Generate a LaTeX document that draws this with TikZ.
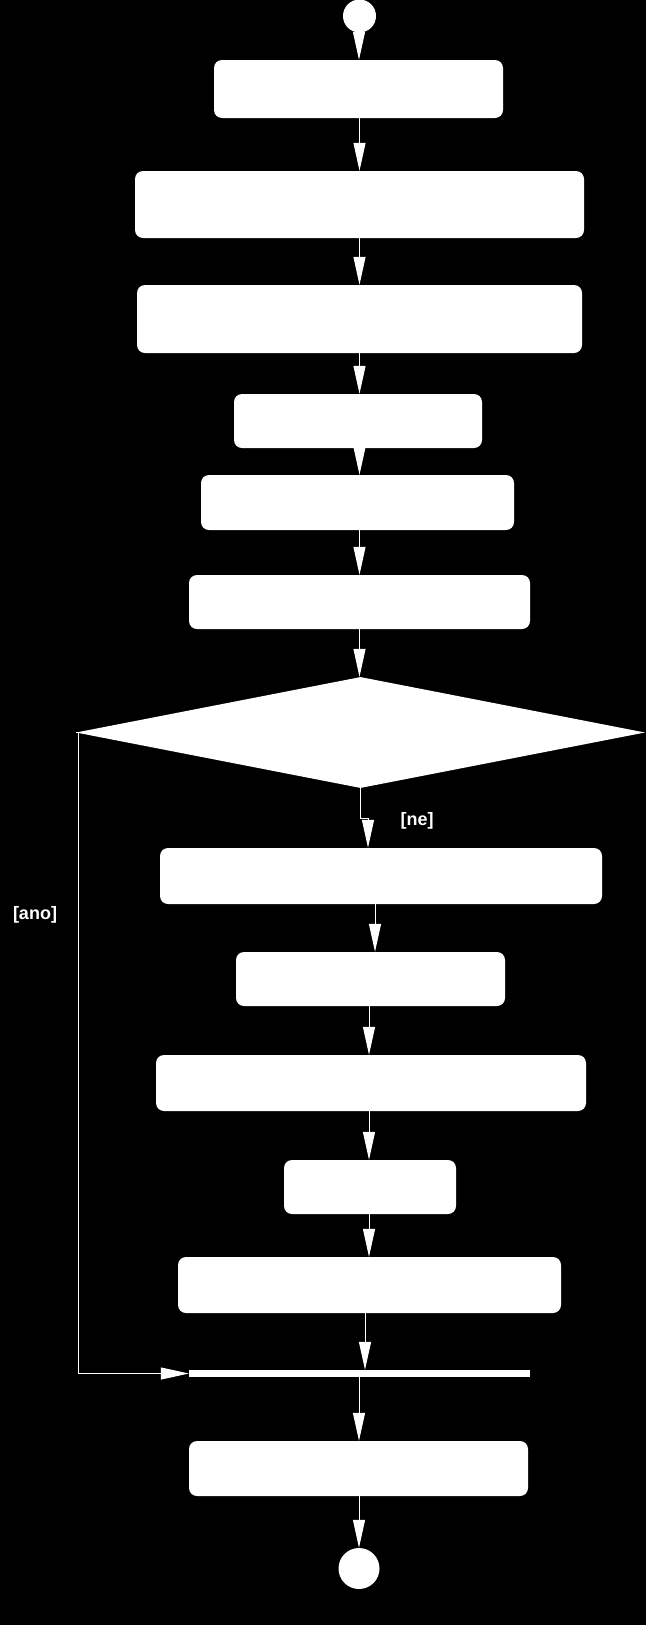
\documentclass[tikz,border=0pt]{standalone}
\usepackage{fontspec}
\setmainfont{Liberation Sans}
\usetikzlibrary{shapes.geometric,arrows.meta}

\begin{document}
\begin{tikzpicture}[
  x=1pt, y=-1pt,
  act/.style={fill=white, draw=none, rounded corners=8pt, inner sep=0pt},
  dec/.style={diamond, fill=white, draw=none, inner sep=0pt},
  ends/.style={circle, fill=white, draw=none, inner sep=0pt},
  flow/.style={white, line width=1pt, -{Triangle[length=28pt, width=12pt]}},
  guard/.style={text=white, font=\fontsize{18}{20}\selectfont\bfseries},
]
  % Background
  \fill[black] (0,0) rectangle (646,1625);
  \useasboundingbox (0,0) rectangle (646,1625);

  % Start
  \node[ends, minimum size=33pt] (start) at (359.5,16) {};

  % Activities before the decision
  \node[act, minimum width=289pt, minimum height=58pt] (a1) at (358.5,89) {};
  \node[act, minimum width=449pt, minimum height=67pt] (a2) at (359.5,204.5) {};
  \node[act, minimum width=445pt, minimum height=68pt] (a3) at (359.5,319) {};
  \node[act, minimum width=248pt, minimum height=54pt] (a4) at (358,421) {};
  \node[act, minimum width=313pt, minimum height=55pt] (a5) at (357.5,502.5) {};
  \node[act, minimum width=341pt, minimum height=54pt] (a6) at (359.5,602) {};

  % Decision
  \node[dec, minimum width=569pt, minimum height=111pt] (choice) at (360.5,732.5) {};

  % Branch [ne]
  \node[act, minimum width=442pt, minimum height=56pt] (a7) at (381,876) {};
  \node[act, minimum width=269pt, minimum height=54pt] (a8) at (370.5,979) {};
  \node[act, minimum width=430pt, minimum height=56pt] (a9) at (371,1083) {};
  \node[act, minimum width=172pt, minimum height=54pt] (a10) at (370,1187) {};
  \node[act, minimum width=383pt, minimum height=56pt] (a11) at (369.5,1285) {};

  % Merge bar, last activity, end
  \node[fill=white, inner sep=0pt, minimum width=341pt, minimum height=7pt] (merge) at (359.5,1373.5) {};
  \node[act, minimum width=339pt, minimum height=55pt] (a12) at (358.5,1468.5) {};
  \node[ends, minimum size=41pt] (stop) at (359,1568.5) {};

  % Flows
  \draw[flow] (start.south -| 359,0) -- (a1.north -| 359,0);
  \foreach \i/\j in {a1/a2, a2/a3, a3/a4, a4/a5, a5/a6, a6/choice}{
    \draw[flow] (\i.south -| 359.5,0) -- (\j.north -| 359.5,0);
  }
  \draw[flow] (choice.south) -- ++(0,30) -| (a7.north -| 368,0);
  \node[guard] (ne) at (417,821) {[ne]};
  \draw[flow] (a7.south -| 375,0) -- (a8.north -| 375,0);
  \foreach \i/\j in {a8/a9, a9/a10, a10/a11}{
    \draw[flow] (\i.south -| 369,0) -- (\j.north -| 369,0);
  }
  \draw[flow] (a11.south -| 365,0) -- (merge.north -| 365,0);
  \draw[flow] (choice.west) -- ++(3,0) |- (merge.west);
  \node[guard] (ano) at (35,915) {[ano]};
  \draw[flow] (merge.south -| 359,0) -- (a12.north -| 359,0);
  \draw[flow] (a12.south -| 359,0) -- (stop.north);
\end{tikzpicture}
\end{document}
